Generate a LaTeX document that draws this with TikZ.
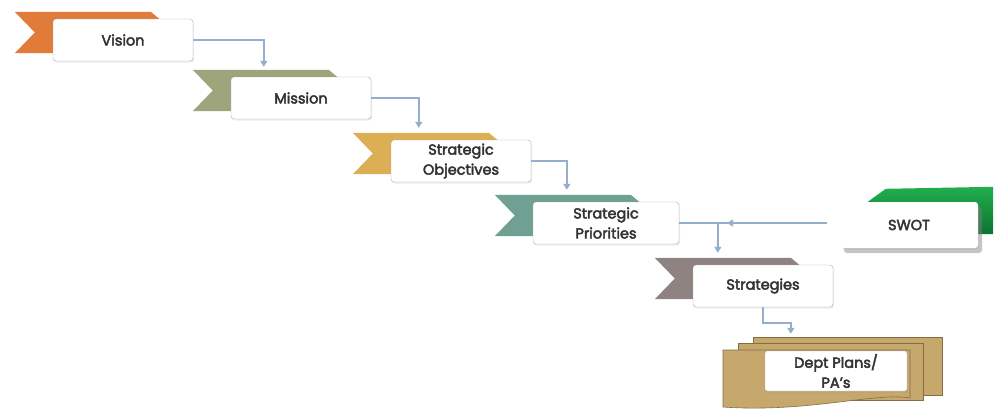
\documentclass[tikz,border=0pt]{standalone}
\usepackage{fontspec}
\setmainfont{Poppins}
\newfontfamily\boxfont[FakeBold=3]{Poppins}
\usetikzlibrary{arrows.meta,backgrounds,positioning,shadows}

\definecolor{visionorange}{HTML}{E07B3A}
\definecolor{missionsage}{HTML}{9EA57C}
\definecolor{objgold}{HTML}{DDAF55}
\definecolor{priorteal}{HTML}{6FA091}
\definecolor{stratgrey}{HTML}{8E8380}
\definecolor{swotgreen}{HTML}{22AE4E}
\definecolor{swotdark}{HTML}{0B7431}
\definecolor{plantan}{HTML}{C6A86C}
\definecolor{linkblue}{HTML}{94AECB}
\definecolor{boxtext}{HTML}{333333}

% ribbon flag behind a step box
\newcommand{\stepflag}[2]{%
	\fill[#2] ([xshift=-38pt,yshift=7pt]#1.north west) -- ([xshift=98pt,yshift=7pt]#1.north west)
		-- ([xshift=110pt,yshift=-3pt]#1.north west) -- ([xshift=110pt,yshift=8pt]#1.south west)
		-- ([xshift=-38pt,yshift=8pt]#1.south west) -- ([xshift=-18pt,yshift=7.5pt]#1.west) -- cycle;}

\begin{document}
\begin{tikzpicture}[
	x=1pt,y=-1pt,
	stepbox/.style={draw=gray!65,rounded corners=3pt,fill=white,minimum width=140pt,minimum height=42pt,
		align=center,text=boxtext,inner sep=1pt,font=\boxfont\fontsize{14.5}{20}\selectfont,
		drop shadow={opacity=0.15,shadow xshift=1pt,shadow yshift=-1.5pt}},
	link/.style={draw=linkblue,line width=1.8pt,-{Triangle[length=6pt,width=7pt]}},
	linkline/.style={draw=linkblue,line width=1.8pt},
	]
	\useasboundingbox (0,0) rectangle (1001,410);
	
	\node[stepbox] at (123,40) (vision) {Vision};
	\node[stepbox] at (301,98) (mission) {Mission};
	\node[stepbox] at (461,161) (objectives) {Strategic\\Objectives};
	\node[stepbox,minimum width=146pt] at (606,223) (priorities) {Strategic\\Priorities};
	\node[stepbox] at (763,286) (strategies) {Strategies};
	\node[stepbox,draw=none,minimum width=138pt,minimum height=46pt,
		drop shadow={opacity=0.45,shadow xshift=4pt,shadow yshift=-5pt}] at (909,225) (swot) {SWOT};
	\node[stepbox,minimum width=142pt,minimum height=40pt,rounded corners=2pt] at (836,371) (plans) {Dept Plans/\\PA’s};
	\coordinate (swotjoin) at (718,223);
	
	\begin{scope}[on background layer]
		\stepflag{vision}{visionorange}
		\stepflag{mission}{missionsage}
		\stepflag{objectives}{objgold}
		\stepflag{priorities}{priorteal}
		\stepflag{strategies}{stratgrey}
		\shade[top color=swotgreen,bottom color=swotdark]
			([xshift=28pt]swot.north west) -- ([xshift=46pt,yshift=13pt]swot.north west)
			-- ([xshift=15pt,yshift=15pt]swot.north east) -- ([xshift=15pt,yshift=14pt]swot.south east)
			-- ([yshift=14pt]swot.south east) -- cycle;
		\begin{scope}[shift={(plans.center)},fill=plantan,draw=plantan!65!black,line width=0.6pt]
			\filldraw (-83,-34) rectangle (106,24);
			\filldraw (-98,-28) rectangle (87,29);
			\filldraw (-113,-21) -- (74,-21) -- (74,27) .. controls (40,21) and (-30,42) .. (-113,36) -- cycle;
		\end{scope}
	\end{scope}
	
	\draw[link] (vision.east) -| ([xshift=33pt,yshift=10pt]mission.north west);
	\draw[link] (mission.east) -| ([xshift=28pt,yshift=12pt]objectives.north west);
	\draw[link] (objectives.east) -| ([xshift=34pt,yshift=12pt]priorities.north west);
	\draw[linkline] ([xshift=-13pt]swot.west |- priorities.east) -- (priorities.east);
	\draw[link] ([xshift=-13pt]swot.west |- priorities.east) -- ([xshift=9pt]swotjoin);
	\draw[link] (swotjoin) -- ([xshift=25pt,yshift=12pt]strategies.north west);
	\draw[link] (strategies.south) -- ++(0,16) -| ([xshift=26pt,yshift=17pt]plans.north west);
\end{tikzpicture}
\end{document}
